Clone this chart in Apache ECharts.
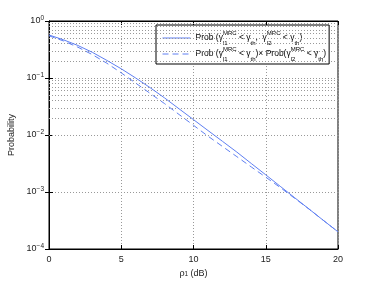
<!DOCTYPE html>
<html><head><meta charset="utf-8">
<script src="https://cdn.jsdelivr.net/npm/echarts@6/dist/echarts.min.js"></script>
<style>html,body{margin:0;padding:0;background:#fff}#c{width:374px;height:281px}</style>
</head><body><div id="c"></div>
<script>
var rhoDb = [0,1,2,3,4,5,6,7,8,9,10,11,12,13,14,15,16,17,18,19,20];
var probJoint = [0.569,0.468,0.372,0.282,0.204,0.145,0.100,0.0676,0.0447,0.0288,0.0186,0.0120,0.00776,0.00501,0.00316,0.00200,0.00126,0.000794,0.000501,0.000316,0.000200];
var probProduct = [0.550,0.447,0.347,0.257,0.182,0.123,0.0813,0.0537,0.0355,0.0229,0.0148,0.00955,0.00631,0.00417,0.00275,0.00182,0.00120,0.000776,0.000501,0.000316,0.000200];
var xTicks = [0,5,10,15,20];
var yMinorGrid = [2e-4,3e-4,4e-4,5e-4,6e-4,7e-4,8e-4,9e-4,2e-3,3e-3,4e-3,5e-3,6e-3,7e-3,8e-3,9e-3,2e-2,3e-2,4e-2,5e-2,6e-2,7e-2,8e-2,9e-2,0.2,0.3,0.4,0.5,0.6,0.7,0.8,0.9];
var name1 = 'Prob (γ{s0|l1}{sp|MRC} < γ{sb|th},  γ{s0|l2}{sp|MRC} < γ{sb|th})';
var name2 = 'Prob (γ{s0|l1}{sp|MRC} < γ{sb|th})× Prob(γ{s0|l2}{sp|MRC} < γ{sb|th})';

var FONT = 'Liberation Sans';
var blue = '#5f7ff2';
var gridLine = {show:true, lineStyle:{color:'#999', type:[1,2], width:1}};

function pair(a,b){return a.map(function(v,i){return [v,b[i]];});}

var chart = echarts.init(document.getElementById('c'), null, {renderer:'canvas'});
chart.setOption({
  animation:false,
  backgroundColor:'#fff',
  textStyle:{fontFamily:FONT},
  grid:{left:49, right:36, top:21, bottom:32, show:true, borderColor:'#000', borderWidth:1, backgroundColor:'transparent', outerBoundsMode:'none', containLabel:false},
  legend:{
    left:156, top:25, orient:'vertical',
    backgroundColor:'#fff', borderColor:'#000', borderWidth:1,
    padding:[5,3,2,6], itemGap:0, itemWidth:28, itemHeight:16, itemTextGap:4,
    itemStyle:{opacity:0},
    lineStyle:{width:1},
    textStyle:{fontFamily:FONT, fontSize:8.5, color:'#000', lineHeight:16,
      rich:{
        s0:{fontSize:6, width:0, align:'left', verticalAlign:'bottom', lineHeight:16, fontFamily:FONT, color:'#000'},
        sp:{fontSize:6, verticalAlign:'top', lineHeight:16, fontFamily:FONT, color:'#000'},
        sb:{fontSize:6, verticalAlign:'bottom', lineHeight:16, fontFamily:FONT, color:'#000'}
      }},
    data:[name1,name2]
  },
  xAxis:[{
    type:'value', min:0, max:20, interval:5,
    name:'ρ{sb|1} (dB)', nameLocation:'middle', nameGap:19,
    nameTextStyle:{fontFamily:FONT, fontSize:9, color:'#222', rich:{sb:{fontSize:6.5, verticalAlign:'bottom', fontFamily:FONT, color:'#222'}}},
    axisLine:{show:true, lineStyle:{color:'#000'}},
    axisTick:{show:true, inside:true, length:4, lineStyle:{color:'#000'}},
    axisLabel:{fontFamily:FONT, fontSize:9, color:'#222', margin:6},
    splitLine:gridLine
  },{
    type:'value', min:0, max:20, interval:5, position:'top',
    axisLine:{show:true, lineStyle:{color:'#000'}},
    axisTick:{show:true, inside:true, length:4, lineStyle:{color:'#000'}},
    axisLabel:{show:false}, splitLine:{show:false}
  }],
  yAxis:[{
    type:'log', logBase:10, min:1e-4, max:1,
    name:'Probability', nameLocation:'middle', nameGap:28,
    nameTextStyle:{fontFamily:FONT, fontSize:9, color:'#222'},
    axisLine:{show:true, lineStyle:{color:'#000'}},
    axisTick:{show:true, inside:true, length:4, lineStyle:{color:'#000'}},
    axisLabel:{fontFamily:FONT, fontSize:9, color:'#222', margin:5,
      formatter:function(v){var e=Math.round(Math.log10(v)); return '10{sp|'+(e<0?'−'+(-e):e)+'}';},
      rich:{sp:{fontSize:6.5, verticalAlign:'top', fontFamily:FONT, color:'#222', padding:[0,0,6,0]}}},
    splitLine:gridLine
  },{
    type:'log', logBase:10, min:1e-4, max:1, position:'right',
    axisLine:{show:true, lineStyle:{color:'#000'}},
    axisTick:{show:true, inside:true, length:4, lineStyle:{color:'#000'}},
    axisLabel:{show:false}, splitLine:{show:false}
  }],
  series:[
    {type:'line', name:'minor', data:[], silent:true, z:1,
     markLine:{silent:true, symbol:'none', label:{show:false}, animation:false,
       lineStyle:{color:'#999', type:[1,2], width:1},
       data:yMinorGrid.map(function(v){return {yAxis:v};})}},
    {type:'line', name:name1, data:pair(rhoDb,probJoint), showSymbol:false, symbol:'none', z:5,
     lineStyle:{color:blue, width:1}, itemStyle:{color:blue}},
    {type:'line', name:name2, data:pair(rhoDb,probProduct), showSymbol:false, symbol:'none', z:5,
     lineStyle:{color:blue, width:1, type:[6,4]}, itemStyle:{color:blue}}
  ]
});
</script></body></html>
